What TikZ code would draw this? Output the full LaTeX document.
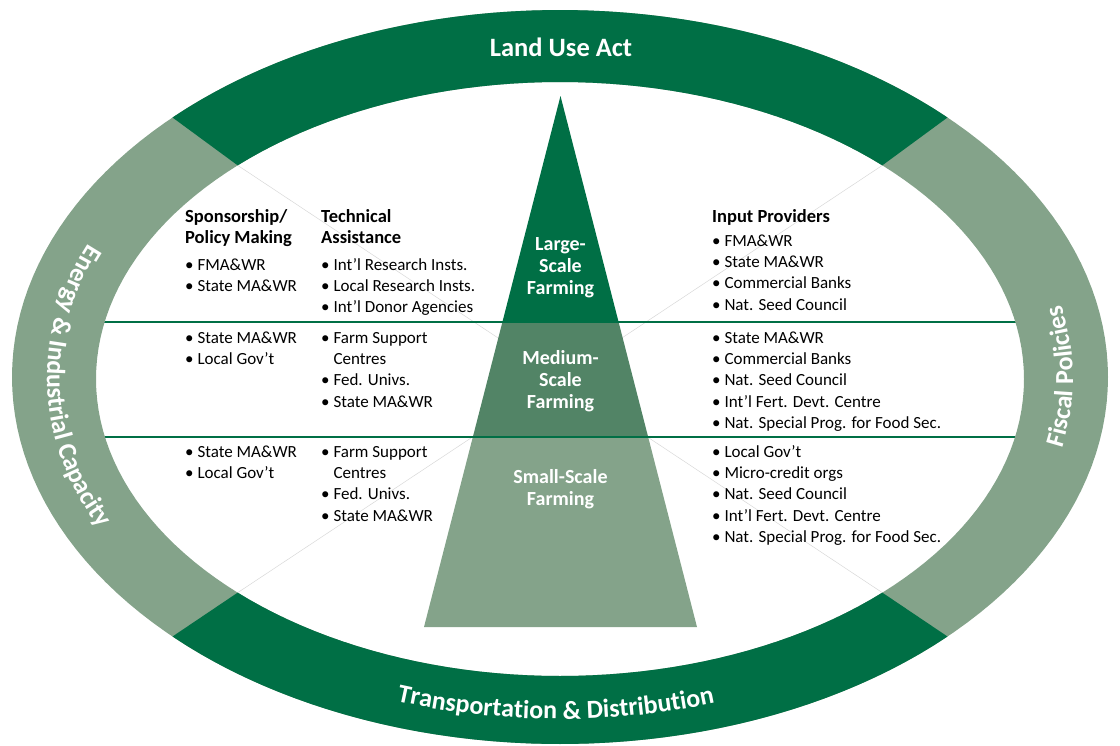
\documentclass[tikz,border=0pt]{standalone}
\usepackage{fontspec}
\setmainfont{Carlito}
\definecolor{dkgreen}{HTML}{006F45}
\definecolor{midgreen}{HTML}{528466}
\definecolor{ltgreen}{HTML}{84A38A}
\definecolor{faint}{HTML}{D8D8D8}
\newcommand{\bodyfont}{\fontsize{17}{21.4}\selectfont}
\newcommand{\headfont}{\bfseries\fontsize{18.5}{21.4}\selectfont}
\newcommand{\bandfont}{\bfseries\fontsize{26.5}{30}\selectfont}
\newcommand{\ringfont}{\bfseries\fontsize{26}{30}\selectfont}
% compute (outside the picture) positions of characters along the baseline
% ellipse: centre (560,378), rx 513, ry 341; #1 centre parameter, #2 prefix, #3 chars
\newcommand{\ringprep}[3]{%
  \xdef\accT{0}%
  \foreach \ch in {#3}{%
    \setbox0\hbox{\ringfont\ch}%
    \edef\rtWd{\the\wd0}%
    \pgfmathsetmacro\rtW{\rtWd}%
    \pgfmathsetmacro\rtP{#1-\accT}%
    \pgfmathsetmacro\rtS{100*sqrt((5.13*sin(\rtP))^2+(3.41*cos(\rtP))^2)}%
    \pgfmathsetmacro\rtA{\accT+\rtW/\rtS*57.29578}%
    \xdef\accT{\rtA}%
  }%
  \pgfmathsetmacro\rtStart{#1+\accT/2}%
  \xdef\curT{\rtStart}%
  \foreach \ch [count=\i] in {#3}{%
    \setbox0\hbox{\ringfont\ch}%
    \edef\rtWd{\the\wd0}%
    \pgfmathsetmacro\rtW{\rtWd}%
    \pgfmathsetmacro\rtSa{100*sqrt((5.13*sin(\curT))^2+(3.41*cos(\curT))^2)}%
    \pgfmathsetmacro\rtM{\curT-\rtW/2/\rtSa*57.29578}%
    \pgfmathsetmacro\rtSb{100*sqrt((5.13*sin(\rtM))^2+(3.41*cos(\rtM))^2)}%
    \pgfmathsetmacro\rtMb{\curT-\rtW/2/\rtSb*57.29578}%
    \pgfmathsetmacro\rtN{\curT-\rtW/\rtSb*57.29578}%
    \pgfmathsetmacro\rtX{560+513*cos(\rtMb)}%
    \pgfmathsetmacro\rtY{378+341*sin(\rtMb)}%
    \pgfmathsetmacro\rtAng{atan2(3.41*cos(\rtMb),5.13*sin(\rtMb))}%
    \expandafter\xdef\csname rtX#2\i\endcsname{\rtX}%
    \expandafter\xdef\csname rtY#2\i\endcsname{\rtY}%
    \expandafter\xdef\csname rtR#2\i\endcsname{\rtAng}%
    \expandafter\xdef\csname rtC#2\i\endcsname{\ch}%
    \expandafter\xdef\csname rtN#2\endcsname{\i}%
    \xdef\curT{\rtN}%
  }%
}
\newcommand{\ringplace}[1]{%
  \edef\rtCount{\csname rtN#1\endcsname}%
  \foreach \i in {1,...,\rtCount}{%
    \edef\px{\csname rtX#1\i\endcsname}%
    \edef\py{\csname rtY#1\i\endcsname}%
    \edef\pr{\csname rtR#1\i\endcsname}%
    \node[bandchar, rotate=\pr] (#1-\i) at (\px,\py) {\csname rtC#1\i\endcsname};
  }%
}
\begin{document}
\ringprep{90}{trans}{T,r,a,n,s,p,o,r,t,a,t,i,o,n,\ ,\&,\ ,D,i,s,t,r,i,b,u,t,i,o,n}%
\ringprep{180}{energy}{E,n,e,r,g,y,\ ,\&,\ ,I,n,d,u,s,t,r,i,a,l,\ ,C,a,p,a,c,i,t,y}%
\ringprep{0}{fiscal}{F,i,s,c,a,l,\ ,P,o,l,i,c,i,e,s}%
\begin{tikzpicture}[x=1pt,y=-1pt,
  body/.style={anchor=base west, align=left, inner sep=0pt, font=\bodyfont, text=black},
  head/.style={body, font=\headfont},
  tri/.style={anchor=base, align=center, inner sep=0pt, font=\fontsize{20}{22}\selectfont\bfseries, text=white},
  bandchar/.style={anchor=base, inner sep=0pt, text=white, font=\ringfont},
  sepline/.style={dkgreen, line width=2pt},
  xline/.style={faint, line width=0.5pt}]
\useasboundingbox (0,0) rectangle (1120,745);

% faint diagonal lines between opposite inner boundary points
\coordinate (tl) at ({560+464*cos(226)},{379+297*sin(226)});
\coordinate (tr) at ({560+464*cos(314)},{379+297*sin(314)});
\coordinate (bl) at ({560+464*cos(134)},{379+297*sin(134)});
\coordinate (br) at ({560+464*cos(46)},{379+297*sin(46)});
\draw[xline] (tl) -- (br);
\draw[xline] (tr) -- (bl);

% triangle with three bands
\coordinate (apex) at (560.5,96);
\coordinate (baseL) at (424,627);
\coordinate (baseR) at (697,627);
\begin{scope}
  \clip (apex) -- (baseR) -- (baseL) -- cycle;
  \fill[dkgreen] (400,90) rectangle (720,322);
  \fill[midgreen] (400,322) rectangle (720,437);
  \fill[ltgreen] (400,437) rectangle (720,630);
\end{scope}

% horizontal separators
\coordinate (h1a) at (90,322);
\coordinate (h1b) at (1030,322);
\coordinate (h2a) at (90,437);
\coordinate (h2b) at (1030,437);
\draw[sepline] (h1a) -- (h1b);
\draw[sepline] (h2a) -- (h2b);

% ring
\fill[ltgreen, even odd rule]
  plot[domain=0:360,samples=181] ({560+548*cos(\x)},{377+367*sin(\x)}) -- cycle
  plot[domain=0:360,samples=181] ({560+464*cos(\x)},{379+297*sin(\x)}) -- cycle;
\fill[dkgreen]
  plot[domain=225:315,samples=46] ({560+548*cos(\x)},{377+367*sin(\x)})
  -- plot[domain=314:226,samples=45] ({560+464*cos(\x)},{379+297*sin(\x)}) -- cycle;
\fill[dkgreen]
  plot[domain=45:135,samples=46] ({560+548*cos(\x)},{377+367*sin(\x)})
  -- plot[domain=134:46,samples=45] ({560+464*cos(\x)},{379+297*sin(\x)}) -- cycle;

% ring labels
\node[anchor=base, inner sep=0pt, text=white, font=\bandfont] (landuse) at (561,56) {Land Use Act};
\ringplace{trans}
\ringplace{energy}
\ringplace{fiscal}

% triangle labels (anchor = baseline of last line)
\node[tri] (large) at (560.5,294) {Large-\\Scale\\Farming};
\node[tri] (medium) at (560.5,408) {Medium-\\Scale\\Farming};
\node[tri] (small) at (560.5,505) {Small-Scale\\Farming};

% row 1
\node[head] (sponH) at (185,243.4) {Sponsorship/\\Policy Making};
\node[body] (spon1) at (185,291.4) {\textbullet\ FMA\&WR\\\textbullet\ State MA\&WR};
\node[head] (techH) at (321,243.4) {Technical\\Assistance};
\node[body] (tech1) at (321,312.8) {\textbullet\ Int’l Research Insts.\\\textbullet\ Local Research Insts.\\\textbullet\ Int’l Donor Agencies};
\node[head] (inpH) at (712,222) {Input Providers};
\node[body] (inp1) at (712,310.2) {\textbullet\ FMA\&WR\\\textbullet\ State MA\&WR\\\textbullet\ Commercial Banks\\\textbullet\ Nat. Seed Council};

% row 2
\node[body] (spon2) at (185,364.4) {\textbullet\ State MA\&WR\\\textbullet\ Local Gov’t};
\node[body] (tech2) at (321,407.2) {\textbullet\ Farm Support\\\hphantom{\textbullet\ }Centres\\\textbullet\ Fed. Univs.\\\textbullet\ State MA\&WR};
\node[body] (inp2) at (712,428.6) {\textbullet\ State MA\&WR\\\textbullet\ Commercial Banks\\\textbullet\ Nat. Seed Council\\\textbullet\ Int’l Fert. Devt. Centre\\\textbullet\ Nat. Special Prog. for Food Sec.};

% row 3
\node[body] (spon3) at (185,478.4) {\textbullet\ State MA\&WR\\\textbullet\ Local Gov’t};
\node[body] (tech3) at (321,521.2) {\textbullet\ Farm Support\\\hphantom{\textbullet\ }Centres\\\textbullet\ Fed. Univs.\\\textbullet\ State MA\&WR};
\node[body] (inp3) at (712,542.6) {\textbullet\ Local Gov’t\\\textbullet\ Micro-credit orgs\\\textbullet\ Nat. Seed Council\\\textbullet\ Int’l Fert. Devt. Centre\\\textbullet\ Nat. Special Prog. for Food Sec.};
\end{tikzpicture}
\end{document}
